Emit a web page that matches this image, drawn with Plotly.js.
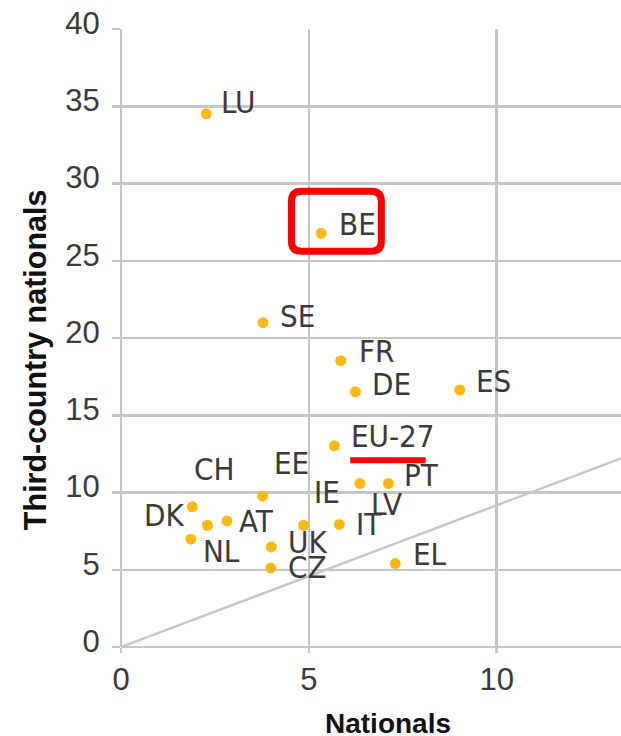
<!DOCTYPE html>
<html>
<head>
<meta charset="utf-8">
<script src="https://cdn.plot.ly/plotly-3.0.1.min.js"></script>
<style>
html, body { margin: 0; padding: 0; background: #ffffff; }
#chart { width: 621px; height: 736px; }
</style>
</head>
<body>
<div id="chart"></div>
<script>
// ---- data ----
const countries    = ['LU', 'BE', 'SE', 'FR', 'DE', 'ES', 'EU-27', 'PT', 'LV', 'IT', 'EL', 'DK', 'CH', 'AT', 'NL', 'EE', 'UK', 'CZ', 'IE'];
const nationals    = [2.27, 5.33, 3.78, 5.85, 6.24, 9.02, 5.68, 7.12, 6.36, 5.81, 7.30, 1.90, 2.30, 2.82, 1.86, 3.77, 4.00, 3.99, 4.86];
const thirdCountry = [34.51, 26.78, 20.99, 18.53, 16.52, 16.63, 13.02, 10.59, 10.59, 7.93, 5.40, 9.07, 7.88, 8.16, 6.98, 9.76, 6.48, 5.12, 7.88];
const refLineX = [0, 13.31];
const refLineY = [0, 12.21];
const xTickVals = [0, 5, 10];
const yTickVals = [0, 5, 10, 15, 20, 25, 30, 35, 40];
const xTitle = 'Nationals';
const yTitle = 'Third-country nationals';

// ---- label placement (pixel offsets from each point; style only) ----
// [xshift, yshift, xanchor]
const labelOffsets = {
  'LU': [13, 11.5, 'left'], 'BE': [15.5, 9.5, 'left'], 'SE': [15, 7, 'left'],
  'FR': [16, 9.7, 'left'], 'DE': [15, 7.7, 'left'], 'ES': [14.5, 9, 'left'],
  'EU-27': [15, 9.7, 'left'], 'PT': [13.5, 8, 'left'], 'LV': [9, -21, 'left'],
  'IT': [14.5, 0, 'left'], 'EL': [15.5, 9.3, 'left'], 'DK': [-6, -8, 'right'],
  'CH': [-15, 56.7, 'left'], 'AT': [10.5, 0, 'left'], 'NL': [10, -11.5, 'left'],
  'EE': [9.5, 33, 'left'], 'UK': [14.5, 5, 'left'], 'CZ': [15, 1, 'left'],
  'IE': [8.5, 33, 'left']
};

const gridCol = '#c6c6c6';
const labelFont = { family: '"DejaVu Sans Condensed", "Liberation Sans", sans-serif', size: 31, color: '#3a3a3a' };
const titleFamily = '"Liberation Sans", Arial, sans-serif';

const traces = [
  {
    x: refLineX, y: refLineY, type: 'scatter', mode: 'lines',
    line: { color: '#c8c8c8', width: 2.5 }, hoverinfo: 'skip', showlegend: false
  },
  {
    x: nationals, y: thirdCountry, text: countries, type: 'scatter', mode: 'markers',
    marker: { color: '#FDB813', size: 11, line: { width: 0 } }, showlegend: false
  }
];

const annotations = countries.map((c, i) => {
  const o = labelOffsets[c];
  return {
    x: nationals[i], y: thirdCountry[i], xref: 'x', yref: 'y',
    text: c, showarrow: false, xanchor: o[2], yanchor: 'middle',
    xshift: o[0], yshift: o[1], font: labelFont
  };
});

annotations.push({
  text: '<b>' + yTitle + '</b>', xref: 'paper', yref: 'paper', x: -0.171, y: 0.465,
  xanchor: 'center', yanchor: 'middle', textangle: -90, showarrow: false,
  font: { family: titleFamily, size: 30.5, color: '#111111' }
});
annotations.push({
  text: '<b>' + xTitle + '</b>', xref: 'paper', yref: 'paper', x: 0.533, y: -0.096,
  xanchor: 'center', yanchor: 'top', showarrow: false,
  font: { family: titleFamily, size: 28, color: '#111111' }
});

// red highlight box around BE (rounded corners) and underline under EU-27
const bx0 = 4.537, bx1 = 6.931, by0 = 25.62, by1 = 29.50, rx = 0.266, ry = 0.648;
const boxPath = `M ${bx0 + rx},${by1} L ${bx1 - rx},${by1} Q ${bx1},${by1} ${bx1},${by1 - ry} ` +
  `L ${bx1},${by0 + ry} Q ${bx1},${by0} ${bx1 - rx},${by0} L ${bx0 + rx},${by0} ` +
  `Q ${bx0},${by0} ${bx0},${by0 + ry} L ${bx0},${by1 - ry} Q ${bx0},${by1} ${bx0 + rx},${by1} Z`;

const shapes = [
  { type: 'path', xref: 'x', yref: 'y', path: boxPath, line: { color: '#ff0000', width: 7 }, fillcolor: 'rgba(0,0,0,0)' },
  { type: 'line', xref: 'x', yref: 'y', x0: 6.10, x1: 8.11, y0: 12.08, y1: 12.08, line: { color: '#ff0000', width: 6 } }
];

const tickFont = { family: '"Liberation Sans", Arial, sans-serif', size: 31, color: '#3a3a3a' };

const layout = {
  width: 621, height: 736,
  margin: { l: 120.7, r: 0, t: 29.3, b: 89.3, pad: 0 },
  paper_bgcolor: '#ffffff', plot_bgcolor: '#ffffff',
  showlegend: false,
  xaxis: {
    range: [0, 13.31], tickvals: xTickVals, ticktext: xTickVals.map(String),
    showgrid: true, gridcolor: gridCol, gridwidth: 2.5,
    zeroline: true, zerolinecolor: gridCol, zerolinewidth: 2.5, showline: false,
    ticks: 'outside', ticklen: 5, tickwidth: 2.5, tickcolor: gridCol,
    tickfont: tickFont, ticklabelstandoff: 0, fixedrange: true
  },
  yaxis: {
    range: [0, 40], tickvals: yTickVals, ticktext: yTickVals.map(String),
    showgrid: true, gridcolor: gridCol, gridwidth: 2.5,
    zeroline: true, zerolinecolor: gridCol, zerolinewidth: 2.5, showline: false,
    ticks: 'outside', ticklen: 8, tickwidth: 2.5, tickcolor: gridCol,
    tickfont: tickFont, ticklabelstandoff: 6, ticklabelshift: -6, fixedrange: true
  },
  annotations: annotations,
  shapes: shapes
};

Plotly.newPlot('chart', traces, layout, { staticPlot: true, displayModeBar: false });
</script>
</body>
</html>
